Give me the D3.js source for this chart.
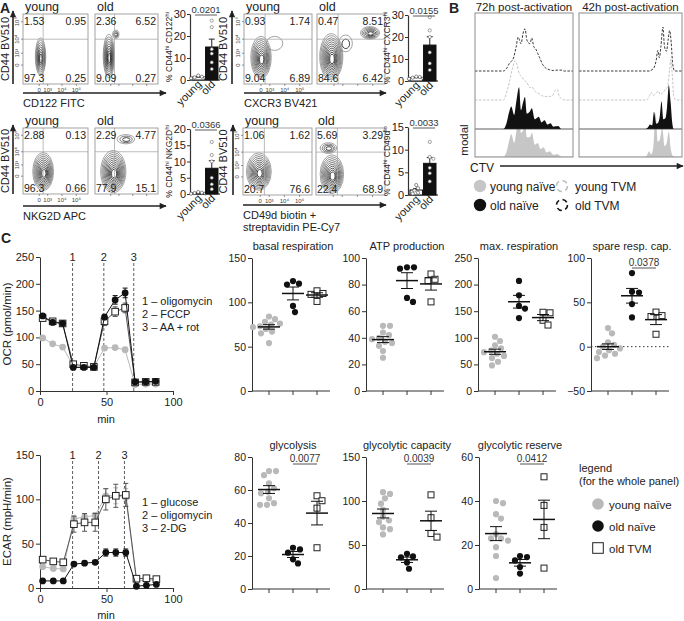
<!DOCTYPE html>
<html><head><meta charset="utf-8">
<script src="https://cdn.jsdelivr.net/npm/d3@7"></script>
<style>body{margin:0;background:#fff} svg{display:block}</style>
</head><body><svg id="c" width="684" height="621"></svg>
<script>
// ================= DATA =================
const flowGroups = ["young", "old"];
const flowXTickLabels = ["0", "10³", "10⁴", "10⁵"];
const flowXTickPos = [0.25, 0.38, 0.6, 0.82];
const flowYTickLabels = ["10⁵", "10⁴", "10³", "0"];
const flowYTickPos = [0.11, 0.36, 0.56, 0.73];
// quadrant % : [UL, UR, LL, LR]
const cd122Quad = [["1.53","0.95","97.3","0.25"],["2.36","6.52","9.09","0.27"]];
const cxcr3Quad = [["0.93","1.74","9.04","6.89"],["0.47","8.51","84.6","6.42"]];
const nkg2dQuad = [["2.88","0.13","96.3","0.66"],["2.29","4.77","77.9","15.1"]];
const cd49dQuad = [["1.06","1.62","20.7","76.6"],["5.69","3.29","22.4","68.9"]];
// contour populations [cx, cy, rx, ry, levels] in gate-relative units
const cd122Blobs = [[[0.27,0.61,0.08,0.27,8]], [[0.22,0.6,0.09,0.31,9],[0.33,0.29,0.05,0.06,3]]];
const cxcr3Blobs = [[[0.25,0.62,0.15,0.3,10],[0.45,0.42,0.12,0.1,1]], [[0.21,0.61,0.17,0.33,11],[0.78,0.27,0.14,0.09,6],[0.42,0.42,0.1,0.12,2]]];
const nkg2dBlobs = [[[0.31,0.66,0.16,0.29,10]], [[0.29,0.66,0.2,0.32,11],[0.49,0.17,0.14,0.07,3]]];
const cd49dBlobs = [[[0.23,0.65,0.18,0.28,10]], [[0.23,0.69,0.17,0.29,10],[0.18,0.3,0.12,0.08,4]]];
// bar charts (%)
const cd122BarYoung = [2, 1.5, 1.2, 1.0, 0.8];
const cd122BarOld = [27, 24, 14, 12, 8, 5];
const cxcr3BarYoung = [2, 1.8, 1.5, 1.2, 1.0];
const cxcr3BarOld = [29, 23, 20, 13, 8, 5];
const nkg2dBarYoung = [0.6, 0.4, 0.3, 0.2, 0.1];
const nkg2dBarOld = [16, 12, 10, 5, 3, 1.5];
const cd49dBarYoung = [2.2, 1.5, 1.0, 0.5, 0.3];
const cd49dBarOld = [11.7, 8.4, 8.0, 6.0, 4.8, 3.0];
const barPValues = ["0.0201", "0.0155", "0.0366", "0.0033"];

// Panel B CTV histograms: [CTV (0-100), modal %]
const h72YoungNaive = [[0,0],[29,0],[32,10],[35,38],[37,52],[40,32],[42,55],[45,95],[47,55],[49,60],[51,80],[53,45],[56,45],[58,55],[61,28],[64,32],[67,18],[70,22],[73,10],[76,13],[80,5],[84,7],[87,2],[89,0],[100,0]];
const h72OldNaive = [[0,0],[29,0],[32,12],[35,40],[37,51],[40,32],[42,60],[45,95],[47,43],[49,60],[51,73],[53,35],[56,40],[58,47],[61,22],[63,25],[65,28],[68,15],[71,20],[74,10],[77,13],[80,5],[82,6],[85,7],[88,0],[100,0]];
const h72YoungTVM = [[0,0],[29,0],[32,15],[35,40],[38,70],[41,89],[43,80],[45,60],[47,55],[50,45],[53,40],[56,28],[58,30],[61,20],[64,16],[68,10],[72,8],[76,8],[79,10],[82,22],[84,24],[86,8],[89,2],[92,0],[100,0]];
const h72OldTVM = [[0,0],[29,0],[32,5],[35,17],[39,28],[42,55],[44,77],[47,62],[49,85],[51,96],[53,70],[56,62],[58,75],[60,55],[62,50],[64,40],[66,30],[69,15],[72,7],[76,3],[80,1],[84,2],[88,2],[91,0],[100,0]];
const h42YoungNaive = [[0,0],[64,0],[66,4],[68,13],[70,6],[72,20],[74.4,100],[76.5,35],[78.5,40],[80.8,66],[83,25],[85,30],[87.2,58],[89,20],[91,3],[93,0],[100,0]];
const h42OldNaive = [[0,0],[64,0],[67,4],[69,10],[71,8],[72.8,39],[75,12],[77,15],[78.5,30],[80.1,63],[82,22],[84,25],[85.5,50],[87.2,100],[89,60],[90.5,15],[92,0],[100,0]];
const h42YoungTVM = [[0,0],[66,0],[68,8],[70,17],[72,10],[74,14],[77,20],[79,12],[81,16],[84,24],[86,30],[88,70],[89,92],[90.5,60],[92,8],[94,0],[100,0]];
const h42OldTVM = [[0,0],[68,0],[71,3],[73,8],[75,25],[76.5,47],[78,30],[79.5,55],[81.5,100],[83,55],[85,45],[86.5,70],[88,92],[89.5,65],[91,15],[93,0],[100,0]];
const bLegend = ["young naïve", "young TVM", "old naïve", "old TVM"];

// Panel C time courses
const ocrTime = [2, 9.5, 17, 25, 33, 40.5, 48.5, 56.5, 64, 71.5, 79.5, 87];
const ocrYoungNaive = [99, 88, 82, 47, 45, 45, 80, 81, 77, 12, 13, 13];
const ocrOldNaive = [140, 128, 126, 44, 44, 44, 138, 170, 183, 17, 17, 18];
const ocrOldTVM = [136, 130, 126, 50, 47, 45, 130, 148, 155, 16, 17, 17];
const ocrYoungNaiveErr = [3, 3, 3, 2, 2, 2, 3, 3, 3, 1, 1, 1];
const ocrOldNaiveErr = [4, 4, 3, 3, 2, 2, 5, 8, 9, 2, 2, 2];
const ocrOldTVMErr = [5, 5, 4, 3, 3, 3, 8, 9, 9, 2, 2, 2];
const ocrInjections = [24.5, 48, 70.5];
const ocrInjLabels = ["1 – oligomycin", "2 – FCCP", "3 – AA + rot"];

const ecarTime = [2, 10, 17.5, 25.5, 33.5, 41.5, 49.5, 57, 64.5, 72.5, 80, 87.5];
const ecarYoungNaive = [24, 22, 21.5, 78, 80, 82, 104, 104, 102, 8, 9, 9];
const ecarOldNaive = [8, 8, 8, 27, 28, 29, 40, 40, 40, 2, 3, 4];
const ecarOldTVM = [32, 30, 29, 72, 74, 74, 100, 104, 105, 10.5, 11, 10];
const ecarYoungNaiveErr = [2, 2, 2, 4, 3, 3, 8, 9, 10, 1, 1, 1];
const ecarOldNaiveErr = [1, 1, 1, 2, 2, 2, 4, 4, 4, 1, 1, 1];
const ecarOldTVMErr = [3, 3, 3, 9, 10, 10, 12, 13, 13, 2, 2, 2];
const ecarInjections = [24.5, 44, 63.5];
const ecarInjLabels = ["1 – glucose", "2 – oligomycin", "3 – 2-DG"];

// Panel C dot plots
const cGroups = ["young naïve", "old naïve", "old TVM"];
const basalYN = [84, 81, 78, 76, 75, 73, 72, 70, 67, 65, 54];
const basalON = [124, 121, 120, 96, 89];
const basalTVM = [113, 110, 109, 101];
const atpYN = [49, 49, 44, 42, 40, 39, 37, 36, 34, 30, 25];
const atpON = [93, 93, 92, 70, 67];
const atpTVM = [88, 84, 83, 67];
const maxYN = [102, 94, 86, 80, 76, 73, 70, 66, 62, 55, 48];
const maxON = [207, 180, 160, 155, 137];
const maxTVM = [148, 147, 133, 124];
const spareYN = [21, 15, 5, 2, 0, -2, -4, -6, -8, -10, -13];
const spareON = [83, 62, 61, 48, 33];
const spareTVM = [39, 35, 34, 14];
const glycYN = [71.5, 71.5, 69, 64, 61, 59, 58, 55, 52, 51, 51];
const glycON = [25, 24, 22, 18, 15.5];
const glycTVM = [56.5, 53.5, 49, 25];
const capYN = [110, 108, 103, 97, 90, 82, 78, 76, 70, 68, 62];
const capON = [40, 37, 36, 30, 23];
const capTVM = [107, 81, 63, 59];
const resYN = [40, 39, 34, 32, 25, 23, 22, 19, 15, 5, 23];
const resON = [15, 14.5, 13, 10, 7];
const resTVM = [51, 38, 28, 9.5];

// ================= DRAWING =================
const FONT = '"Liberation Sans", Arial, Helvetica, sans-serif';
const INK = "#222";
const GRAY = "#b9b9b9";
const svg = d3.select("#c").attr("font-family", FONT);
svg.append("rect").attr("width", 684).attr("height", 621).attr("fill", "#fff");
const defs = svg.append("defs");
defs.append("marker").attr("id", "arr").attr("viewBox", "0 0 10 10")
  .attr("refX", 9).attr("refY", 5).attr("markerUnits", "userSpaceOnUse")
  .attr("markerWidth", 8).attr("markerHeight", 7).attr("orient", "auto")
  .append("path").attr("d", "M0,0.5 L10,5 L0,9.5 z").attr("fill", INK);

function txt(g, x, y, s, o = {}) {
  const t = g.append("text").attr("x", x).attr("y", y).text(s)
    .attr("font-size", o.size || 10).attr("text-anchor", o.anchor || "start")
    .attr("fill", o.fill || INK);
  if (o.weight) t.attr("font-weight", o.weight);
  if (o.rotate) t.attr("transform", `rotate(${o.rotate},${x},${y})`);
  return t;
}
function supLabel(g, x, y, parts, size, rotate) {
  const t = g.append("text").attr("x", x).attr("y", y).attr("font-size", size)
    .attr("text-anchor", "middle").attr("fill", INK)
    .attr("transform", `rotate(${rotate},${x},${y})`);
  let prevSup = false;
  parts.forEach(([s, sup]) => {
    const sp = t.append("tspan").text(s);
    if (sup) { sp.attr("font-size", size * 0.7).attr("dy", prevSup ? 0 : -size * 0.35); }
    else if (prevSup) { sp.attr("dy", size * 0.35); }
    prevSup = sup;
  });
}
function styleAxis(g, size) {
  g.attr("font-family", FONT).attr("font-size", size);
  g.selectAll("text").attr("fill", INK);
  g.selectAll("line,path").attr("stroke", "#333");
}

// ---------- Panel letters ----------
txt(svg, 0, 13, "A", { size: 14, weight: "bold" });
txt(svg, 449, 13, "B", { size: 14, weight: "bold" });
txt(svg, 1, 243, "C", { size: 14, weight: "bold" });

// ---------- Panel A flow plots ----------
function flowPair(cfg) {
  const g = svg.append("g");
  g.append("line").attr("x1", cfg.ax).attr("x2", cfg.ax).attr("y1", cfg.bottom).attr("y2", cfg.top - 3)
    .attr("stroke", INK).attr("stroke-width", 1.6).attr("marker-end", "url(#arr)");
  txt(g, cfg.lx, (cfg.top + cfg.bottom) / 2, "CD44 BV510", { size: 11, anchor: "middle", rotate: -90 });
  g.append("line").attr("x1", cfg.boxes[0][0]).attr("x2", cfg.arrowEnd).attr("y1", cfg.arrowY).attr("y2", cfg.arrowY)
    .attr("stroke", INK).attr("stroke-width", 1.6).attr("marker-end", "url(#arr)");
  cfg.xlabel.forEach((s, i) => txt(g, cfg.boxes[0][0], cfg.arrowY + 14 + i * 12, s, { size: 11 }));
  cfg.boxes.forEach(([x0, x1], k) => {
    const xs = d3.scaleLinear().domain([0, 1]).range([x0, x1]);
    const ys = d3.scaleLinear().domain([0, 1]).range([cfg.top, cfg.bottom]);
    txt(g, x0 + 2, cfg.top - 3, flowGroups[k], { size: 12.5 });
    const clipId = "clip" + cfg.id + k;
    defs.append("clipPath").attr("id", clipId).append("rect")
      .attr("x", x0).attr("y", cfg.top).attr("width", x1 - x0).attr("height", cfg.bottom - cfg.top);
    const cg = g.append("g").attr("clip-path", `url(#${clipId})`);
    cfg.blobs[k].forEach(([cx, cy, rx, ry, n]) => {
      for (let i = 0; i < n; i++) {
        const s = 1 - (i / n) * 0.88;
        cg.append("ellipse")
          .attr("cx", xs(cx + (1 - s) * rx * 0.08)).attr("cy", ys(cy + (1 - s) * ry * 0.12))
          .attr("rx", (xs(rx) - xs(0)) * s).attr("ry", (ys(ry) - ys(0)) * s)
          .attr("fill", "none").attr("stroke-width", 0.8)
          .attr("stroke", d3.interpolateRgb("#8a8a8a", "#151515")(n > 1 ? i / (n - 1) : 0));
      }
    });
    g.append("line").attr("x1", x0).attr("x2", x1).attr("y1", ys(0.36)).attr("y2", ys(0.36)).attr("stroke", "#aaa").attr("stroke-width", 0.8);
    g.append("line").attr("x1", xs(0.31)).attr("x2", xs(0.31)).attr("y1", cfg.top).attr("y2", cfg.bottom).attr("stroke", "#aaa").attr("stroke-width", 0.8);
    g.append("rect").attr("x", x0).attr("y", cfg.top).attr("width", x1 - x0).attr("height", cfg.bottom - cfg.top)
      .attr("fill", "none").attr("stroke", "#999").attr("stroke-width", 0.9);
    flowXTickPos.forEach((p, i) => {
      g.append("line").attr("x1", xs(p)).attr("x2", xs(p)).attr("y1", cfg.bottom).attr("y2", cfg.bottom + 2).attr("stroke", "#666").attr("stroke-width", 0.7);
      if (k === 0) txt(g, xs(p), cfg.bottom + 7.5, flowXTickLabels[i], { size: 6, anchor: "middle", fill: "#444" });
    });
    if (k === 0) flowYTickPos.forEach((p, i) => {
      g.append("line").attr("x1", x0 - 2).attr("x2", x0).attr("y1", ys(p)).attr("y2", ys(p)).attr("stroke", "#666").attr("stroke-width", 0.7);
      txt(g, x0 - 3.5, ys(p), flowYTickLabels[i], { size: 6, anchor: "middle", rotate: -90, fill: "#444" });
    });
    const q = cfg.quad[k];
    txt(g, x0 + 1, cfg.top + 11, q[0], { size: 10.5 });
    txt(g, x1 - 2, cfg.top + 11, q[1], { size: 10.5, anchor: "end" });
    txt(g, x0 + 1, cfg.bottom - 2, q[2], { size: 10.5 });
    txt(g, x1 - 2, cfg.bottom - 2, q[3], { size: 10.5, anchor: "end" });
  });
}
flowPair({ id: "a1", ax: 13, lx: 9, top: 14, bottom: 84, boxes: [[23, 88], [95, 158]], arrowY: 93, arrowEnd: 166, xlabel: ["CD122 FITC"], quad: cd122Quad, blobs: cd122Blobs });
flowPair({ id: "a2", ax: 232, lx: 227, top: 14, bottom: 84, boxes: [[244, 312], [317, 385]], arrowY: 93, arrowEnd: 386, xlabel: ["CXCR3 BV421"], quad: cxcr3Quad, blobs: cxcr3Blobs });
flowPair({ id: "a3", ax: 13, lx: 9, top: 128, bottom: 194, boxes: [[23, 88], [95, 158]], arrowY: 206, arrowEnd: 166, xlabel: ["NKG2D APC"], quad: nkg2dQuad, blobs: nkg2dBlobs });
flowPair({ id: "a4", ax: 233, lx: 227, top: 128, bottom: 195, boxes: [[243, 312], [316, 385]], arrowY: 205, arrowEnd: 386, xlabel: ["CD49d biotin +", "streptavidin PE-Cy7"], quad: cd49dQuad, blobs: cd49dBlobs });

// ---------- Panel A bar charts ----------
function barChart(cfg) {
  const g = svg.append("g");
  const y = d3.scaleLinear().domain([0, cfg.max]).range([cfg.y0, cfg.yTop]);
  const x = d3.scaleBand().domain(flowGroups).range([cfg.ax + 2, cfg.ax + 28]).paddingInner(0.08);
  const ag = g.append("g").attr("transform", `translate(${cfg.ax},0)`)
    .call(d3.axisLeft(y).tickValues(cfg.ticks).tickSize(3).tickSizeOuter(0).tickPadding(1));
  styleAxis(ag, 11);
  ag.select("path").attr("stroke-width", 1.2);
  g.append("line").attr("x1", cfg.ax).attr("x2", cfg.ax + 30).attr("y1", cfg.y0).attr("y2", cfg.y0).attr("stroke", "#333").attr("stroke-width", 1.2);
  supLabel(g, cfg.ax - 18, (cfg.y0 + cfg.yTop) / 2, cfg.label, 8.5, -90);
  [cfg.young, cfg.old].forEach((vals, k) => {
    const m = d3.mean(vals), sem = d3.deviation(vals) / Math.sqrt(vals.length);
    const cx = x(flowGroups[k]) + x.bandwidth() / 2;
    g.append("line").attr("x1", cx).attr("x2", cx).attr("y1", y(m)).attr("y2", y(m + sem)).attr("stroke", INK).attr("stroke-width", 1);
    g.append("line").attr("x1", cx - 3).attr("x2", cx + 3).attr("y1", y(m + sem)).attr("y2", y(m + sem)).attr("stroke", INK).attr("stroke-width", 1);
    g.append("rect").attr("x", x(flowGroups[k])).attr("width", x.bandwidth()).attr("y", y(m)).attr("height", cfg.y0 - y(m))
      .attr("fill", k ? "#111" : "#fff").attr("stroke", "#111").attr("stroke-width", 1);
    const sw = swarm(vals, y, 1.8, 0.9);
    sw.forEach(p => g.append("circle").attr("cx", cx + p.dx).attr("cy", p.py).attr("r", 1.6)
      .attr("fill", "#fff").attr("stroke", k ? "#666" : "#444").attr("stroke-width", 0.6));
    txt(g, cx + 4, cfg.y0 + 5, flowGroups[k], { size: 11, anchor: "end", rotate: -45 });
  });
  const xa = x("young") + 3, xb = x("old") + x.bandwidth() - 1;
  txt(g, (xa + xb) / 2, cfg.yTop - 1.5, cfg.p, { size: 9.5, anchor: "middle", fill: "#333" });
  g.append("line").attr("x1", xa).attr("x2", xb).attr("y1", cfg.yTop + 1).attr("y2", cfg.yTop + 1).attr("stroke", "#333").attr("stroke-width", 0.8);
}
barChart({ ax: 190, y0: 80, yTop: 14, max: 30, ticks: [0, 10, 20, 30], young: cd122BarYoung, old: cd122BarOld, p: barPValues[0],
  label: [["% CD44", false], ["hi", true], [" CD122", false], ["hi", true]] });
barChart({ ax: 408, y0: 81, yTop: 15, max: 30, ticks: [0, 10, 20, 30], young: cxcr3BarYoung, old: cxcr3BarOld, p: barPValues[1],
  label: [["% CD44", false], ["hi", true], [" CXCR3", false], ["hi", true]] });
barChart({ ax: 190, y0: 194, yTop: 129, max: 20, ticks: [0, 5, 10, 15, 20], young: nkg2dBarYoung, old: nkg2dBarOld, p: barPValues[2],
  label: [["% CD44", false], ["hi", true], [" NKG2D", false], ["hi", true]] });
barChart({ ax: 408, y0: 195, yTop: 127, max: 15, ticks: [0, 5, 10, 15], young: cd49dBarYoung, old: cd49dBarOld, p: barPValues[3],
  label: [["% CD44", false], ["hi", true], [" CD49d", false], ["lo", true]] });

// ---------- Panel B ----------
const bBoxes = [
  { x0: 475, x1: 573, title: "72h post-activation", data: [h72YoungNaive, h72OldNaive, h72YoungTVM, h72OldTVM] },
  { x0: 579, x1: 682, title: "42h post-activation", data: [h42YoungNaive, h42OldNaive, h42YoungTVM, h42OldTVM] }
];
const bTop = 13, bBottom = 157;
const trackBase = [157, 129, 100, 71];
const yh = d3.scaleLinear().domain([0, 100]).range([0, 44]);
bBoxes.forEach((b, bi) => {
  const g = svg.append("g");
  const xs = d3.scaleLinear().domain([0, 100]).range([b.x0, b.x1]);
  txt(g, (b.x0 + b.x1) / 2, 11, b.title, { size: 11.5, anchor: "middle" });
  defs.append("clipPath").attr("id", "bclip" + bi).append("rect").attr("x", b.x0).attr("y", bTop).attr("width", b.x1 - b.x0).attr("height", bBottom - bTop);
  const cg = g.append("g").attr("clip-path", `url(#bclip${bi})`);
  [0, 1].forEach(t => {
    const base = trackBase[t];
    cg.append("path").datum(b.data[t])
      .attr("d", d3.area().x(d => xs(d[0])).y0(base).y1(d => base - yh(d[1])).curve(d3.curveMonotoneX))
      .attr("fill", t === 0 ? "#c6c6c6" : "#111");
    cg.append("line").attr("x1", b.x0).attr("x2", b.x1).attr("y1", base).attr("y2", base)
      .attr("stroke", t === 0 ? "#c6c6c6" : "#333").attr("stroke-width", 0.8);
  });
  [2, 3].forEach(t => {
    const base = trackBase[t];
    cg.append("path").datum(b.data[t])
      .attr("d", d3.line().x(d => xs(d[0])).y(d => base - yh(d[1])).curve(d3.curveMonotoneX))
      .attr("fill", "none").attr("stroke", t === 2 ? "#bdbdbd" : "#222").attr("stroke-width", 0.9)
      .attr("stroke-dasharray", "2.5,1.5");
  });
  g.append("rect").attr("x", b.x0).attr("y", bTop).attr("width", b.x1 - b.x0).attr("height", bBottom - bTop)
    .attr("fill", "none").attr("stroke", "#8c8c8c").attr("stroke-width", 1);
});
txt(svg, 468, 140, "modal", { size: 11.5, anchor: "middle", rotate: -90 });
txt(svg, 470, 172, "CTV", { size: 12 });
svg.append("line").attr("x1", 500).attr("x2", 683).attr("y1", 166).attr("y2", 166)
  .attr("stroke", INK).attr("stroke-width", 1.6).attr("marker-end", "url(#arr)");
{
  const g = svg.append("g");
  const pos = [[480, 186], [562, 186], [480, 205], [562, 205]];
  pos.forEach(([cx, cy], i) => {
    const c = g.append("circle").attr("cx", cx).attr("cy", cy).attr("r", i % 2 ? 5.5 : 6.2);
    if (i === 0) c.attr("fill", "#c6c6c6");
    else if (i === 2) c.attr("fill", "#111");
    else c.attr("fill", "none").attr("stroke", i === 1 ? "#bdbdbd" : "#111").attr("stroke-width", 1.6).attr("stroke-dasharray", "5,3.6");
    txt(g, cx + (i % 2 ? 13 : 10), cy + 4.5, bLegend[i], { size: 12 });
  });
}

// ---------- Panel C helpers ----------
function swarm(vals, y, r, step) {
  const pts = vals.map(v => ({ v, py: y(v) })).sort((a, b) => a.py - b.py);
  const placed = [];
  pts.forEach(p => {
    let dx = 0;
    for (let k = 0; k < 60; k++) {
      const cand = k === 0 ? 0 : (k % 2 ? 1 : -1) * Math.ceil(k / 2) * step;
      if (placed.every(q => (q.dx - cand) ** 2 + (q.py - p.py) ** 2 >= (2 * r) ** 2)) { dx = cand; break; }
    }
    p.dx = dx; placed.push(p);
  });
  return placed;
}
function drawMarker(g, kind, x, y, size) {
  if (kind === 2) {
    g.append("rect").attr("x", x - size).attr("y", y - size).attr("width", 2 * size).attr("height", 2 * size)
      .attr("fill", "#fff").attr("stroke", "#222").attr("stroke-width", 1);
  } else {
    g.append("circle").attr("cx", x).attr("cy", y).attr("r", size).attr("fill", kind === 0 ? GRAY : "#111");
  }
}

function timeCourse(cfg) {
  const g = svg.append("g");
  const x = d3.scaleLinear().domain([0, 100]).range([40, 173]);
  const y = d3.scaleLinear().domain([0, cfg.max]).range([cfg.y0, cfg.yTop]);
  const ya = g.append("g").attr("transform", "translate(40,0)").call(d3.axisLeft(y).tickValues(cfg.ticks).tickSize(4).tickSizeOuter(0).tickPadding(2));
  const xa = g.append("g").attr("transform", `translate(0,${cfg.y0})`).call(d3.axisBottom(x).tickValues([0, 50, 100]).tickSize(4).tickSizeOuter(0).tickPadding(3));
  styleAxis(ya, 11); styleAxis(xa, 11);
  txt(g, 106, cfg.minY, "min", { size: 11, anchor: "middle" });
  txt(g, 11, (cfg.y0 + cfg.yTop) / 2, cfg.ylabel, { size: 11.5, anchor: "middle", rotate: -90 });
  cfg.inj.forEach((t, i) => {
    g.append("line").attr("x1", x(t)).attr("x2", x(t)).attr("y1", cfg.yTop + 6).attr("y2", cfg.y0)
      .attr("stroke", "#333").attr("stroke-width", 0.8).attr("stroke-dasharray", "3,2");
    txt(g, x(t), cfg.yTop + 4, String(i + 1), { size: 11, anchor: "middle" });
    txt(g, 142, cfg.legY + i * 13, cfg.injLabels[i], { size: 11 });
  });
  const colors = [GRAY, "#111", "#555"];
  cfg.order.forEach(k => {
    const vals = cfg.series[k], err = cfg.errs[k];
    const pts = cfg.time.map((t, i) => [t, vals[i]]);
    g.append("path").datum(pts).attr("d", d3.line().x(d => x(d[0])).y(d => y(d[1])))
      .attr("fill", "none").attr("stroke", colors[k]).attr("stroke-width", 1);
    pts.forEach(([t, v], i) => {
      const e = err[i];
      g.append("line").attr("x1", x(t)).attr("x2", x(t)).attr("y1", y(v - e)).attr("y2", y(v + e)).attr("stroke", colors[k]).attr("stroke-width", 1);
      [v - e, v + e].forEach(w => g.append("line").attr("x1", x(t) - 2.5).attr("x2", x(t) + 2.5).attr("y1", y(w)).attr("y2", y(w)).attr("stroke", colors[k]).attr("stroke-width", 1));
    });
    pts.forEach(([t, v]) => drawMarker(g, k, x(t), y(v), k === 2 ? 3.3 : 3.4));
  });
}
timeCourse({ time: ocrTime, series: [ocrYoungNaive, ocrOldNaive, ocrOldTVM], errs: [ocrYoungNaiveErr, ocrOldNaiveErr, ocrOldTVMErr],
  order: [0, 2, 1], max: 250, ticks: [0, 50, 100, 150, 200, 250], y0: 391, yTop: 257, minY: 423,
  ylabel: "OCR (pmol/min)", inj: ocrInjections, injLabels: ocrInjLabels, legY: 305 });
timeCourse({ time: ecarTime, series: [ecarYoungNaive, ecarOldNaive, ecarOldTVM], errs: [ecarYoungNaiveErr, ecarOldNaiveErr, ecarOldTVMErr],
  order: [0, 2, 1], max: 150, ticks: [0, 50, 100, 150], y0: 588, yTop: 455, minY: 619,
  ylabel: "ECAR (mpH/min)", inj: ecarInjections, injLabels: ecarInjLabels, legY: 506 });

function dotPlot(cfg) {
  const g = svg.append("g");
  const y = d3.scaleLinear().domain(cfg.domain).range([cfg.y0, cfg.yTop]);
  const x = d3.scalePoint().domain(cGroups).range([cfg.ax + 17, cfg.ax + 65]);
  const ya = g.append("g").attr("transform", `translate(${cfg.ax},0)`)
    .call(d3.axisLeft(y).tickValues(cfg.ticks).tickSize(4).tickSizeOuter(0).tickPadding(2));
  styleAxis(ya, 10.5);
  g.append("line").attr("x1", cfg.ax).attr("x2", cfg.ax + 78).attr("y1", cfg.y0).attr("y2", cfg.y0).attr("stroke", "#333");
  cGroups.forEach(c => g.append("line").attr("x1", x(c)).attr("x2", x(c)).attr("y1", cfg.y0).attr("y2", cfg.y0 + 4).attr("stroke", "#333"));
  txt(g, x(cGroups[1]), cfg.titleY, cfg.title, { size: 11, anchor: "middle" });
  if (cfg.zeroLine) g.append("line").attr("x1", cfg.ax).attr("x2", cfg.ax + 80).attr("y1", y(0)).attr("y2", y(0))
    .attr("stroke", "#333").attr("stroke-width", 1).attr("stroke-dasharray", "1.5,2.5");
  cfg.data.forEach((vals, k) => {
    const cx = x(cGroups[k]);
    const sw = swarm(vals, y, 3.2, 1);
    sw.forEach(p => drawMarker(g, k, cx + p.dx, p.py, k === 2 ? 3 : 3.1));
  });
  cfg.data.forEach((vals, k) => {
    const cx = x(cGroups[k]);
    const m = d3.mean(vals), sem = d3.deviation(vals) / Math.sqrt(vals.length);
    g.append("line").attr("x1", cx - 11).attr("x2", cx + 11).attr("y1", y(m)).attr("y2", y(m)).attr("stroke", "#111").attr("stroke-width", 1.5);
    g.append("line").attr("x1", cx).attr("x2", cx).attr("y1", y(m - sem)).attr("y2", y(m + sem)).attr("stroke", "#111").attr("stroke-width", 1);
    [m - sem, m + sem].forEach(w => g.append("line").attr("x1", cx - 6).attr("x2", cx + 6).attr("y1", y(w)).attr("y2", y(w)).attr("stroke", "#111").attr("stroke-width", 1));
  });
  if (cfg.p) {
    const xa = x(cGroups[1]), xb = x(cGroups[2]);
    txt(g, (xa + xb) / 2, cfg.pLineY - 2, cfg.p, { size: 10, anchor: "middle", fill: "#333" });
    g.append("line").attr("x1", xa).attr("x2", xb).attr("y1", cfg.pLineY).attr("y2", cfg.pLineY).attr("stroke", "#555").attr("stroke-width", 1);
  }
}
dotPlot({ ax: 252, y0: 391, yTop: 258, domain: [0, 150], ticks: [0, 50, 100, 150], title: "basal respiration", titleY: 250, data: [basalYN, basalON, basalTVM] });
dotPlot({ ax: 366, y0: 391, yTop: 258, domain: [0, 100], ticks: [0, 20, 40, 60, 80, 100], title: "ATP production", titleY: 250, data: [atpYN, atpON, atpTVM] });
dotPlot({ ax: 478, y0: 391, yTop: 258, domain: [0, 250], ticks: [0, 50, 100, 150, 200, 250], title: "max. respiration", titleY: 250, data: [maxYN, maxON, maxTVM] });
dotPlot({ ax: 591, y0: 391, yTop: 258, domain: [-50, 100], ticks: [-50, 0, 50, 100], title: "spare resp. cap.", titleY: 250, data: [spareYN, spareON, spareTVM], zeroLine: true, p: "0.0378", pLineY: 268 });
dotPlot({ ax: 252, y0: 589, yTop: 457, domain: [0, 80], ticks: [0, 20, 40, 60, 80], title: "glycolysis", titleY: 449, data: [glycYN, glycON, glycTVM], p: "0.0077", pLineY: 464 });
dotPlot({ ax: 366, y0: 589, yTop: 457, domain: [0, 150], ticks: [0, 50, 100, 150], title: "glycolytic capacity", titleY: 449, data: [capYN, capON, capTVM], p: "0.0039", pLineY: 464 });
dotPlot({ ax: 479, y0: 589, yTop: 457, domain: [0, 60], ticks: [0, 20, 40, 60], title: "glycolytic reserve", titleY: 449, data: [resYN, resON, resTVM], p: "0.0412", pLineY: 464 });

// ---------- Panel C legend ----------
{
  const g = svg.append("g");
  txt(g, 579, 472, "legend", { size: 11 });
  txt(g, 579, 485, "(for the whole panel)", { size: 11 });
  cGroups.forEach((c, k) => {
    const cy = 504 + k * 22;
    drawMarker(g, k, 598, cy, k === 2 ? 5.3 : 5.8);
    txt(g, 609, cy + 4.5, c, { size: 11.5 });
  });
}
</script></body></html>
